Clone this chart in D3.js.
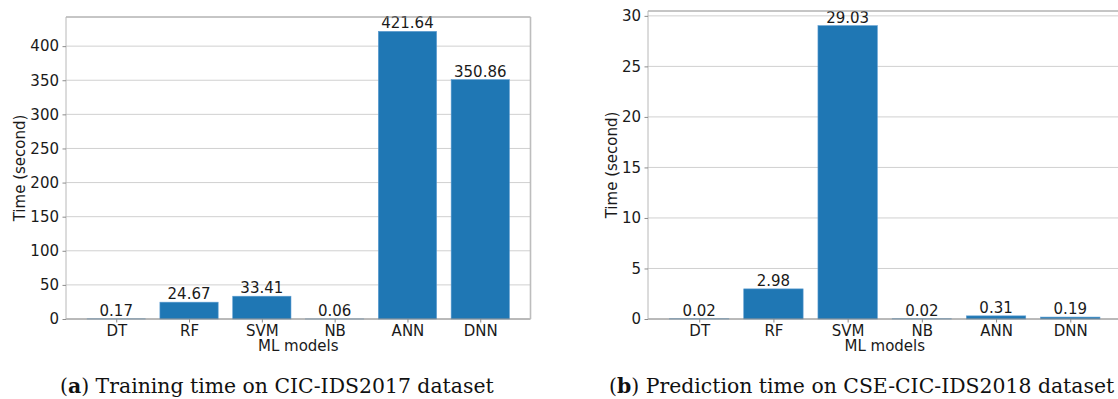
<!DOCTYPE html>
<html>
<head>
<meta charset="utf-8">
<script src="https://cdn.jsdelivr.net/npm/d3@7"></script>
<style>
  html, body { margin: 0; padding: 0; background: #fff; }
  svg { display: block; }
</style>
</head>
<body>
<svg id="chart" width="1118" height="399"></svg>
<script>
// Model names shared by both panels
const models = ["DT", "RF", "SVM", "NB", "ANN", "DNN"];

// Training time on CIC-IDS2017 (seconds)
const trainingTimes = [0.17, 24.67, 33.41, 0.06, 421.64, 350.86];
const trainingTicks = [0, 50, 100, 150, 200, 250, 300, 350, 400];

// Prediction time on CSE-CIC-IDS2018 (seconds)
const predictionTimes = [0.02, 2.98, 29.03, 0.02, 0.31, 0.19];
const predictionTicks = [0, 5, 10, 15, 20, 25, 30];

const captionA = { letter: "a", text: " Training time on CIC-IDS2017 dataset" };
const captionB = { letter: "b", text: " Prediction time on CSE-CIC-IDS2018 dataset" };

const svg = d3.select("#chart");
const BAR = "#1f77b4";
const sans = "'DejaVu Sans', sans-serif";
const FS = 15;

function panel(opts) {
  const { left, right, top, bottom, values, ticks, caption, captionX, ylabelX } = opts;
  const g = svg.append("g");

  // Bars span 0.8 of each slot with 5% padding on the data range, like a default bar plot
  const n = models.length;
  const pad = (n - 1 + 0.8) * 0.05;
  const xLin = d3.scaleLinear().domain([-0.4 - pad, n - 1 + 0.4 + pad]).range([left, right]);
  const vmax = d3.max(values);
  const y = d3.scaleLinear().domain([0, vmax * 1.05]).range([bottom, top]);

  // horizontal grid
  g.append("g")
    .selectAll("line")
    .data(ticks)
    .join("line")
    .attr("x1", left).attr("x2", right)
    .attr("y1", d => y(d)).attr("y2", d => y(d))
    .attr("stroke", "#d0d0d0").attr("stroke-width", 1);

  // bars
  g.append("g")
    .selectAll("rect")
    .data(values)
    .join("rect")
    .attr("x", (d, i) => xLin(i - 0.4))
    .attr("width", (d, i) => xLin(i + 0.4) - xLin(i - 0.4))
    .attr("y", d => y(d))
    .attr("height", d => bottom - y(d))
    .attr("fill", BAR)
    .attr("stroke", "#5a9bd0").attr("stroke-width", 0.6);

  // value labels
  g.append("g")
    .selectAll("text")
    .data(values)
    .join("text")
    .attr("x", (d, i) => xLin(i))
    .attr("y", d => y(d) - 3)
    .attr("text-anchor", "middle")
    .attr("font-family", sans).attr("font-size", FS)
    .attr("fill", "#1a1a1a")
    .text(d => d3.format(".2f")(d));

  // frame
  const frame = g.append("g").attr("fill", "none");
  frame.append("line").attr("x1", left).attr("x2", right).attr("y1", top).attr("y2", top).attr("stroke", "#8c8c8c");
  frame.append("line").attr("x1", left).attr("x2", right).attr("y1", bottom).attr("y2", bottom).attr("stroke", "#8c8c8c");
  frame.append("line").attr("x1", left).attr("x2", left).attr("y1", top).attr("y2", bottom).attr("stroke", "#b8b8b8");
  frame.append("line").attr("x1", right).attr("x2", right).attr("y1", top).attr("y2", bottom).attr("stroke", "#bdbdbd").attr("stroke-width", 1.6);

  // y axis
  const yAxis = g.append("g")
    .attr("transform", `translate(${left},0)`)
    .call(d3.axisLeft(y).tickValues(ticks).tickSize(3.5).tickPadding(3.5).tickFormat(d3.format("d")));
  yAxis.select(".domain").remove();
  yAxis.selectAll(".tick line").attr("stroke", "#8c8c8c");
  yAxis.selectAll(".tick text").attr("font-family", sans).attr("font-size", FS).attr("fill", "#1a1a1a");

  // x axis
  const xAxis = g.append("g")
    .attr("transform", `translate(0,${bottom})`)
    .call(d3.axisBottom(xLin).tickValues(d3.range(n)).tickSize(3.5).tickPadding(2.5).tickFormat(i => models[i]));
  xAxis.select(".domain").remove();
  xAxis.selectAll(".tick line").attr("stroke", "#8c8c8c");
  xAxis.selectAll(".tick text").attr("font-family", sans).attr("font-size", FS).attr("fill", "#1a1a1a");

  // axis titles
  g.append("text")
    .attr("x", (left + right) / 2).attr("y", bottom + 32)
    .attr("text-anchor", "middle")
    .attr("font-family", sans).attr("font-size", FS).attr("fill", "#1a1a1a")
    .text("ML models");
  g.append("text")
    .attr("transform", `translate(${ylabelX},${(top + bottom) / 2}) rotate(-90)`)
    .attr("text-anchor", "middle")
    .attr("font-family", sans).attr("font-size", FS).attr("fill", "#1a1a1a")
    .text("Time (second)");

  // caption
  const cap = g.append("text")
    .attr("x", captionX).attr("y", 393)
    .attr("font-family", "'DejaVu Serif', serif")
    .attr("font-size", 20.4).attr("fill", "#111");
  cap.append("tspan").text("(");
  cap.append("tspan").attr("font-weight", "bold").text(caption.letter);
  cap.append("tspan").text(")" + caption.text);
}

panel({
  left: 66, right: 530.5, top: 17, bottom: 319,
  values: trainingTimes, ticks: trainingTicks,
  caption: captionA, captionX: 60, ylabelX: 25
});

panel({
  left: 648, right: 1121.5, top: 11, bottom: 319,
  values: predictionTimes, ticks: predictionTicks,
  caption: captionB, captionX: 609, ylabelX: 617
});
</script>
</body>
</html>
